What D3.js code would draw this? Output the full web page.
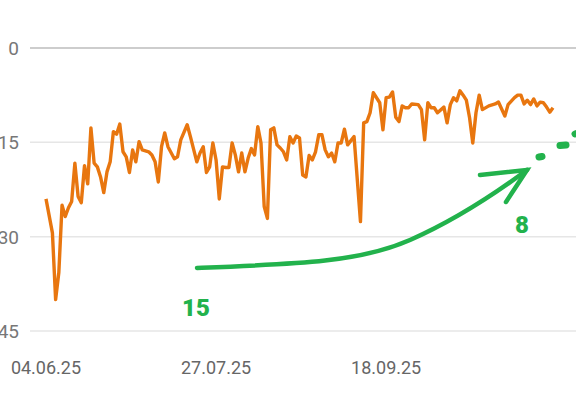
<!DOCTYPE html><html><head><meta charset="utf-8"><script src="https://cdn.jsdelivr.net/npm/d3@7"></script>
<style>body{margin:0;background:#fff}svg{display:block}</style></head><body><svg id="c" width="576" height="418"></svg>
<script>
const startDate="2025-06-04";
const dayOffsets=[0,2,3,4,5,6,7,8,9,10,11,12,13,14,15,16,17,18,19,20,21,22,23,24,25,26,27,28,29,30,32,33,34,35,36,37,38,40,41,42,44,45,47,48,49,50,51,52,53,54,55,56,57,58,59,60,61,62,63,64,65,66,67,68,69,70,71,72,73,74,75,76,77,78,79,80,81,82,83,84,85,86,87,88,89,90,91,92,93,94,96,98,99,100,101,102,104,105,106,107,108,109,110,111,112,113,114,116,117,118,119,120,121,122,124,125,126,127,128,129,130,131,132,133,134,135,136,138,140,141,143,144,146,147,148,149,150,151,152,153,154,155,156,157,158];
const ranks=[24,29.4,40,35.7,25,26.8,25.4,24.4,18.3,23.6,24.6,18.7,21.6,12.7,18.3,18.9,20.5,23,19.7,18.1,13.3,13.7,12.1,16.5,17.3,19.8,16.2,18.1,14.9,16.2,16.5,17,18.1,21.3,15.7,13.5,15.7,17.6,17.3,14.6,12.2,14.1,18.1,16.7,15.7,19.8,18.9,15.1,17.8,24,18.9,19,19,15.1,17,19.7,16.7,19.7,17.5,16,17,12.5,15.1,25.2,27.1,13,12.7,15.4,15.9,16.5,17.8,14.1,15.1,14,14.3,20.2,20.5,17.1,17.8,16.5,13.8,13.8,16.2,17.3,16.7,18.1,15.1,15.1,12.9,15.4,14.1,27.6,11.9,11.7,10.3,7.1,8.7,13,7.9,7.8,7,11,11.7,9.2,9.5,9.5,8.9,9,9.8,14.6,8.7,9.5,9.5,10.3,9.4,11.9,9,7.9,8.4,6.8,7.5,8.3,11.1,15.1,10.3,7.5,9.8,9.2,8.9,8.6,10.8,9,7.9,7.5,7.5,8.9,8.3,9,8.1,9.2,8.6,8.7,9.4,10.2,9.5,9.2];
const yTicks=[0,15,30,45];
const xTickLabels=["04.06.25","27.07.25","18.09.25"];
const xTickDays=[0,53,106];
const annoLabels=["15","8"];

const svg=d3.select("#c");
const parse=d3.timeParse("%Y-%m-%d");
const t0=parse(startDate);
const dates=dayOffsets.map(d=>d3.timeDay.offset(t0,d));
const x=d3.scaleTime().domain([t0,d3.timeDay.offset(t0,158)]).range([46,553]);
const y=d3.scaleLinear().domain([0,45]).range([48,331]);

const g=svg.append("g");
yTicks.forEach(v=>{
  g.append("line").attr("x1",30).attr("x2",576).attr("y1",y(v)).attr("y2",y(v))
   .attr("stroke",v===0?"#bdbdbd":"#e6e6e6").attr("stroke-width",1.5);
  g.append("text").attr("x",19).attr("y",y(v)).attr("dy","0.36em").attr("text-anchor","end")
   .attr("font-family","Roboto, sans-serif").attr("font-size",19).attr("fill","#777").text(v);
});
xTickDays.forEach((d,i)=>{
  g.append("text").attr("x",x(d3.timeDay.offset(t0,d))).attr("y",374).attr("text-anchor","middle")
   .attr("font-family","Roboto, sans-serif").attr("font-size",18).attr("fill","#666").text(xTickLabels[i]);
});
const pts=dates.map((d,i)=>[x(d),y(ranks[i])]);
svg.append("path").attr("d",d3.line()(pts)).attr("fill","none").attr("stroke","#E8760F")
  .attr("stroke-width",3.4).attr("stroke-linejoin","round");

const green="#22B24C";
const a=svg.append("g").attr("stroke",green).attr("fill","none").attr("stroke-width",4.5).attr("stroke-linecap","round");
a.append("path").attr("d","M197,268 C300,264 360,262 410,240 C460,218 500,190 527,170");
a.append("path").attr("d","M480,175 L527,170 L506,202");
a.append("path").attr("d","M539,157 L542,156.5 M560,145.5 L566,145 M575,134 L578,133").attr("stroke-width",7);
svg.append("text").attr("x",196).attr("y",316).attr("text-anchor","middle").attr("font-family","Roboto, sans-serif")
  .attr("font-weight",900).attr("font-size",24).attr("fill",green).text(annoLabels[0]);
svg.append("text").attr("x",522).attr("y",233).attr("text-anchor","middle").attr("font-family","Roboto, sans-serif")
  .attr("font-weight",900).attr("font-size",24).attr("fill",green).text(annoLabels[1]);
</script></body></html>
